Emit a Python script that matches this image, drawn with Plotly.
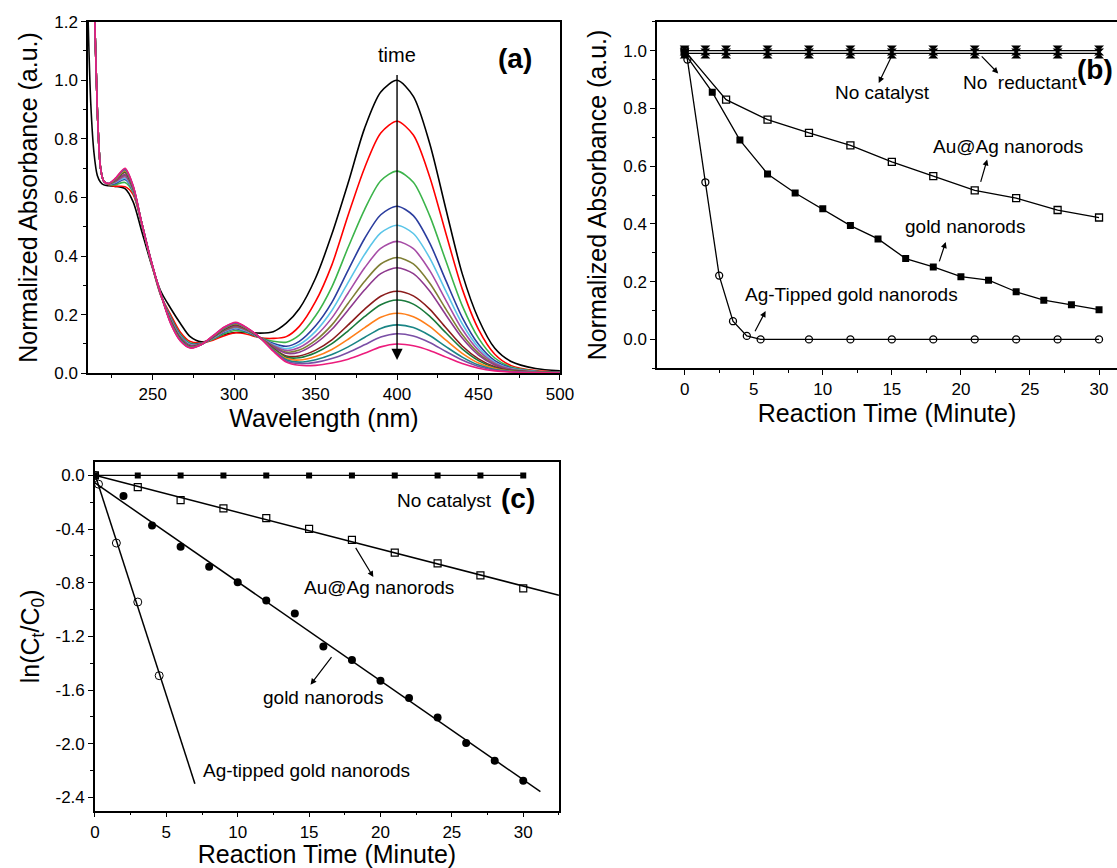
import numpy as np
import plotly.graph_objects as go

# ---------------- panel (a): spectra ----------------
wavelength = [210, 212, 214, 216, 218, 220, 223, 227, 233, 238, 243, 249, 255, 261, 267, 273, 280, 287, 294, 301,
              308, 316, 324, 332, 340, 350, 360, 370, 380, 390, 400, 410, 420, 430, 440, 450, 460, 470, 485, 500]

abs_black = [1.28, 0.92, 0.75, 0.675, 0.652, 0.643, 0.640, 0.638, 0.630, 0.585, 0.490, 0.375, 0.280, 0.222, 0.170, 0.125, 0.107, 0.118, 0.132, 0.139,
             0.140, 0.137, 0.142, 0.171, 0.220, 0.325, 0.475, 0.650, 0.835, 0.960, 1.000, 0.945, 0.785, 0.560, 0.340, 0.185, 0.085, 0.040, 0.016, 0.008]
abs_red = [1.9, 1.6, 1.3, 0.90, 0.700, 0.655, 0.643, 0.638, 0.637, 0.610, 0.515, 0.380, 0.265, 0.200, 0.140, 0.108, 0.104, 0.113, 0.128, 0.138,
           0.133, 0.121, 0.119, 0.125, 0.160, 0.245, 0.370, 0.540, 0.700, 0.820, 0.860, 0.813, 0.671, 0.477, 0.288, 0.150, 0.065, 0.026, 0.009, 0.004]
abs_green = [1.9, 1.6, 1.3, 0.90, 0.700, 0.655, 0.644, 0.644, 0.651, 0.617, 0.516, 0.381, 0.266, 0.193, 0.133, 0.103, 0.103, 0.116, 0.135, 0.146,
             0.138, 0.121, 0.109, 0.106, 0.130, 0.196, 0.295, 0.430, 0.558, 0.657, 0.690, 0.652, 0.538, 0.383, 0.231, 0.120, 0.052, 0.021, 0.007, 0.003]
abs_blue = [1.9, 1.6, 1.3, 0.90, 0.700, 0.655, 0.645, 0.648, 0.661, 0.622, 0.517, 0.382, 0.267, 0.189, 0.129, 0.100, 0.102, 0.119, 0.140, 0.152,
            0.141, 0.121, 0.102, 0.092, 0.109, 0.162, 0.242, 0.352, 0.459, 0.541, 0.570, 0.538, 0.445, 0.316, 0.191, 0.099, 0.043, 0.018, 0.006, 0.003]
abs_cyan = [1.9, 1.6, 1.3, 0.90, 0.700, 0.655, 0.645, 0.651, 0.666, 0.624, 0.517, 0.382, 0.267, 0.186, 0.126, 0.098, 0.101, 0.120, 0.142, 0.155,
            0.143, 0.121, 0.098, 0.084, 0.098, 0.143, 0.214, 0.310, 0.405, 0.479, 0.505, 0.477, 0.394, 0.280, 0.169, 0.088, 0.038, 0.016, 0.006, 0.003]
abs_magenta = [1.9, 1.6, 1.3, 0.90, 0.700, 0.655, 0.646, 0.653, 0.671, 0.626, 0.518, 0.383, 0.268, 0.184, 0.124, 0.096, 0.101, 0.121, 0.144, 0.157,
               0.145, 0.121, 0.095, 0.078, 0.088, 0.127, 0.189, 0.274, 0.359, 0.426, 0.450, 0.425, 0.351, 0.249, 0.150, 0.078, 0.034, 0.014, 0.005, 0.002]
abs_olive = [1.9, 1.6, 1.3, 0.90, 0.700, 0.655, 0.646, 0.655, 0.676, 0.628, 0.518, 0.383, 0.268, 0.182, 0.122, 0.095, 0.100, 0.122, 0.146, 0.160,
             0.147, 0.121, 0.092, 0.072, 0.079, 0.112, 0.165, 0.239, 0.313, 0.373, 0.395, 0.373, 0.308, 0.219, 0.132, 0.069, 0.030, 0.013, 0.005, 0.002]
abs_purple = [1.9, 1.6, 1.3, 0.90, 0.700, 0.655, 0.646, 0.656, 0.678, 0.630, 0.518, 0.383, 0.268, 0.180, 0.120, 0.094, 0.100, 0.123, 0.148, 0.162,
              0.148, 0.121, 0.090, 0.068, 0.072, 0.102, 0.150, 0.216, 0.284, 0.340, 0.360, 0.340, 0.281, 0.199, 0.120, 0.062, 0.028, 0.012, 0.004, 0.002]
abs_brown = [1.9, 1.6, 1.3, 0.90, 0.700, 0.655, 0.647, 0.659, 0.685, 0.633, 0.519, 0.384, 0.269, 0.177, 0.117, 0.091, 0.099, 0.124, 0.151, 0.166,
             0.150, 0.121, 0.085, 0.059, 0.059, 0.079, 0.114, 0.165, 0.218, 0.263, 0.280, 0.264, 0.219, 0.155, 0.093, 0.049, 0.022, 0.009, 0.004, 0.002]
abs_dkgreen = [1.9, 1.6, 1.3, 0.90, 0.700, 0.655, 0.647, 0.660, 0.688, 0.634, 0.519, 0.384, 0.269, 0.176, 0.116, 0.090, 0.099, 0.125, 0.152, 0.167,
               0.151, 0.121, 0.084, 0.055, 0.053, 0.070, 0.101, 0.145, 0.193, 0.234, 0.250, 0.236, 0.195, 0.138, 0.083, 0.043, 0.019, 0.008, 0.003, 0.002]
abs_orange = [1.9, 1.6, 1.3, 0.90, 0.700, 0.655, 0.647, 0.661, 0.691, 0.636, 0.519, 0.384, 0.269, 0.174, 0.114, 0.089, 0.099, 0.126, 0.154, 0.169,
              0.152, 0.121, 0.081, 0.050, 0.045, 0.057, 0.081, 0.116, 0.155, 0.191, 0.205, 0.193, 0.160, 0.113, 0.068, 0.035, 0.016, 0.007, 0.003, 0.001]
abs_teal = [1.9, 1.6, 1.3, 0.90, 0.700, 0.655, 0.648, 0.663, 0.695, 0.637, 0.520, 0.385, 0.270, 0.173, 0.113, 0.088, 0.098, 0.127, 0.155, 0.171,
            0.153, 0.121, 0.079, 0.046, 0.038, 0.046, 0.064, 0.090, 0.122, 0.153, 0.165, 0.156, 0.129, 0.091, 0.055, 0.028, 0.013, 0.006, 0.003, 0.001]
abs_violet = [1.9, 1.6, 1.3, 0.90, 0.700, 0.655, 0.648, 0.664, 0.697, 0.639, 0.520, 0.385, 0.270, 0.171, 0.111, 0.087, 0.098, 0.127, 0.157, 0.172,
              0.154, 0.121, 0.077, 0.042, 0.033, 0.037, 0.050, 0.071, 0.097, 0.124, 0.135, 0.127, 0.105, 0.074, 0.045, 0.023, 0.011, 0.005, 0.002, 0.001]
abs_pink = [1.9, 1.6, 1.3, 0.90, 0.700, 0.655, 0.648, 0.665, 0.700, 0.640, 0.520, 0.385, 0.270, 0.170, 0.110, 0.086, 0.098, 0.128, 0.158, 0.174,
            0.155, 0.121, 0.075, 0.038, 0.027, 0.027, 0.035, 0.048, 0.068, 0.090, 0.100, 0.094, 0.078, 0.055, 0.033, 0.017, 0.008, 0.004, 0.002, 0.001]

spectra = [abs_black, abs_red, abs_green, abs_blue, abs_cyan, abs_magenta, abs_olive,
           abs_purple, abs_brown, abs_dkgreen, abs_orange, abs_teal, abs_violet, abs_pink]
spectra_colors = ['#000000', '#ff0000', '#3cb44b', '#2b3d9e', '#5bc5e8', '#a64ca6', '#7f7f35',
                  '#8e3a8e', '#8b1c1c', '#1a7a3c', '#ff7f1a', '#1a8585', '#7a4fa6', '#ec1c7c']

# ---------------- panel (b): decay of absorbance at 400 nm ----------------
t_ctrl = [0, 1.5, 3, 6, 9, 12, 15, 18, 21, 24, 27, 30]
no_catalyst_b = [1.0, 1.0, 1.0, 1.0, 1.0, 1.0, 1.0, 1.0, 1.0, 1.0, 1.0, 1.0]
no_reductant_b = [0.99, 0.99, 0.99, 0.99, 0.99, 0.99, 0.99, 0.99, 0.99, 0.99, 0.99, 0.99]

t_auag = [0, 3, 6, 9, 12, 15, 18, 21, 24, 27, 30]
auag_b = [1.0, 0.830, 0.761, 0.715, 0.672, 0.615, 0.565, 0.516, 0.489, 0.448, 0.422]

t_gold = [0, 2, 4, 6, 8, 10, 12, 14, 16, 18, 20, 22, 24, 26, 28, 30]
gold_b = [0.99, 0.856, 0.690, 0.573, 0.507, 0.452, 0.394, 0.348, 0.280, 0.251, 0.217, 0.205, 0.165, 0.136, 0.120, 0.103]

t_agtip_b = [0, 0.2, 1.5, 2.5, 3.5, 4.5, 5.5, 9, 12, 15, 18, 21, 24, 27, 30]
agtip_b = [1.0, 0.969, 0.544, 0.221, 0.063, 0.012, 0.0, 0.0, 0.0, 0.0, 0.0, 0.0, 0.0, 0.0, 0.0]

# ---------------- panel (c): ln(Ct/C0) ----------------
t_ctrl_c = [0, 3, 6, 9, 12, 15, 18, 21, 24, 27, 30]
no_catalyst_c = [0.0, 0.0, 0.0, 0.0, 0.0, 0.0, 0.0, 0.0, 0.0, 0.0, 0.0]

t_auag_c = [0, 3, 6, 9, 12, 15, 18, 21, 24, 27, 30]
auag_c = [0.0, -0.087, -0.184, -0.246, -0.318, -0.398, -0.480, -0.576, -0.656, -0.745, -0.842]

t_gold_c = [2, 4, 6, 8, 10, 12, 14, 16, 18, 20, 22, 24, 26, 28, 30]
gold_c = [-0.154, -0.373, -0.532, -0.681, -0.797, -0.932, -1.029, -1.275, -1.376, -1.530, -1.660, -1.804, -1.995, -2.127, -2.276]

t_agtip_c = [0, 0.25, 1.5, 3, 4.5]
agtip_c = [0.0, -0.065, -0.504, -0.944, -1.493]

# how far each fitted line is drawn (minutes)
fit_end = {'auag': 32.5, 'gold': 31.2, 'agtip': 7.0}

y_ticks_c = [0.0, -0.4, -0.8, -1.2, -1.6, -2.0, -2.4]
y_ticktext_c = ['0.0', '-0.4', '-0.8', '-1.2', '-1.6', '-2.0', '-2.4']

FONT = 'Liberation Sans, Arial, sans-serif'

fig = go.Figure()

# spectra
for vals, col in zip(spectra, spectra_colors):
    fig.add_trace(go.Scatter(x=wavelength, y=vals, mode='lines',
                             line=dict(color=col, width=1.6, shape='spline', smoothing=0.8),
                             xaxis='x', yaxis='y', hoverinfo='skip'))

# panel (b) series
line_b = dict(color='black', width=1.3)
fig.add_trace(go.Scatter(x=t_ctrl, y=no_reductant_b, mode='lines+markers', line=line_b,
                         marker=dict(symbol='hourglass', size=10, color='black'),
                         xaxis='x2', yaxis='y2'))
fig.add_trace(go.Scatter(x=t_ctrl, y=no_catalyst_b, mode='lines+markers', line=line_b,
                         marker=dict(symbol='hourglass', size=10, color='black'),
                         xaxis='x2', yaxis='y2'))
fig.add_trace(go.Scatter(x=t_agtip_b, y=agtip_b, mode='lines+markers', line=line_b,
                         marker=dict(symbol='circle-open', size=7, color='black', line=dict(width=1.3)),
                         xaxis='x2', yaxis='y2'))
fig.add_trace(go.Scatter(x=t_gold, y=gold_b, mode='lines+markers', line=line_b,
                         marker=dict(symbol='square', size=7, color='black'),
                         xaxis='x2', yaxis='y2'))
fig.add_trace(go.Scatter(x=t_auag, y=auag_b, mode='lines+markers', line=line_b,
                         marker=dict(symbol='square-open', size=7, color='black', line=dict(width=1.3)),
                         xaxis='x2', yaxis='y2'))

# panel (c) series + linear fits
fig.add_trace(go.Scatter(x=t_ctrl_c, y=no_catalyst_c, mode='lines+markers', line=line_b,
                         marker=dict(symbol='square', size=6, color='black'),
                         xaxis='x3', yaxis='y3'))
fits = [(t_auag_c, auag_c, 'auag', dict(symbol='square-open', size=7, color='black', line=dict(width=1.2))),
        (t_gold_c, gold_c, 'gold', dict(symbol='circle', size=8, color='black')),
        (t_agtip_c, agtip_c, 'agtip', dict(symbol='circle-open', size=8, color='black', line=dict(width=1)))]
for tx, ty, key, mk in fits:
    slope, icpt = np.polyfit(tx, ty, 1)
    xf = np.array([0, fit_end[key]])
    fig.add_trace(go.Scatter(x=xf, y=slope * xf + icpt, mode='lines',
                             line=dict(color='black', width=1.5), xaxis='x3', yaxis='y3'))
    fig.add_trace(go.Scatter(x=tx, y=ty, mode='markers', marker=mk, xaxis='x3', yaxis='y3'))


def axis(domain, rng, dtick, minor, title, standoff, anchor, mirror=True, **kw):
    d = dict(domain=domain, range=rng, dtick=dtick, anchor=anchor,
             showline=True, linecolor='black', linewidth=1.5, mirror=mirror,
             ticks='outside', ticklen=5, tickwidth=1.3, tickcolor='black',
             minor=dict(dtick=minor, ticks='outside', ticklen=3, tickwidth=1.2, tickcolor='black', showgrid=False),
             showgrid=False, zeroline=False, automargin=False,
             tickfont=dict(family=FONT, size=17, color='black'),
             title=dict(text=title, standoff=standoff, font=dict(family=FONT, size=25, color='black')))
    d.update(kw)
    return d


fig.update_layout(
    width=1117, height=868,
    margin=dict(l=0, r=0, t=0, b=0),
    paper_bgcolor='white', plot_bgcolor='white',
    showlegend=False,
    font=dict(family=FONT, color='black'),
    xaxis=axis([0.0788, 0.5013], [210.3, 500], 50, 25, 'Wavelength (nm)', 0, 'y', tick0=250),
    yaxis=axis([0.570, 0.975], [0, 1.2], 0.2, 0.1, 'Normalized Absorbance (a.u.)', 9, 'x', tickformat='.1f'),
    xaxis2=axis([0.5882, 1.0], [-2, 31.3], 5, 2.5, 'Reaction Time (Minute)', 0, 'y2', tick0=0),
    yaxis2=axis([0.5757, 0.975], [-0.1, 1.1], 0.2, 0.1, 'Normalized Absorbance (a.u.)', 9, 'x2',
                mirror=False, tickformat='.1f', tick0=0),
    xaxis3=axis([0.0850, 0.5004], [0, 32.5], 5, 2.5, 'Reaction Time (Minute)', 0, 'y3', tick0=0),
    yaxis3=axis([0.066, 0.4677], [-2.5, 0.1], 0.4, 0.2, 'ln(C<sub>t</sub>/C<sub>0</sub>)', 9, 'x3',
                tickmode='array', tickvals=y_ticks_c, ticktext=y_ticktext_c),
)

ann_font = dict(family=FONT, size=19, color='black')
bold_font = dict(family=FONT, size=28, color='black')
arrow = dict(showarrow=True, arrowhead=2, arrowsize=1, arrowwidth=1.2, arrowcolor='black', text='')

annotations = [
    # panel (a)
    dict(x=400, y=1.086, xref='x', yref='y', text='time', showarrow=False, font=dict(family=FONT, size=20)),
    dict(x=400, y=0.045, ax=400, ay=1.023, xref='x', yref='y', axref='x', ayref='y',
         showarrow=True, arrowhead=2, arrowsize=1.6, arrowwidth=1.4, arrowcolor='black', text=''),
    dict(x=472.5, y=1.076, xref='x', yref='y', text='<b>(a)</b>', showarrow=False, font=bold_font),
    # panel (b)
    dict(x=14.3, y=0.856, xref='x2', yref='y2', text='No catalyst', showarrow=False, font=ann_font),
    dict(x=14.05, y=0.888, ax=15, ay=0.982, xref='x2', yref='y2', axref='x2', ayref='y2', **arrow),
    dict(x=24.3, y=0.89, xref='x2', yref='y2', text='No  reductant', showarrow=False, font=ann_font),
    dict(x=22.7, y=0.921, ax=21.4, ay=0.985, xref='x2', yref='y2', axref='x2', ayref='y2', **arrow),
    dict(x=29.7, y=0.934, xref='x2', yref='y2', text='<b>(b)</b>', showarrow=False, font=bold_font),
    dict(x=23.4, y=0.669, xref='x2', yref='y2', text='Au@Ag nanorods', showarrow=False, font=ann_font),
    dict(x=21.9, y=0.623, ax=21.4, ay=0.54, xref='x2', yref='y2', axref='x2', ayref='y2', **arrow),
    dict(x=20.3, y=0.392, xref='x2', yref='y2', text='gold nanorods', showarrow=False, font=ann_font),
    dict(x=18.9, y=0.337, ax=18.4, ay=0.265, xref='x2', yref='y2', axref='x2', ayref='y2', **arrow),
    dict(x=12.1, y=0.156, xref='x2', yref='y2', text='Ag-Tipped gold nanorods', showarrow=False, font=ann_font),
    dict(x=5.86, y=0.098, ax=5.04, ay=0.023, xref='x2', yref='y2', axref='x2', ayref='y2', **arrow),
    # panel (c)
    dict(x=24.5, y=-0.189, xref='x3', yref='y3', text='No catalyst', showarrow=False, font=ann_font),
    dict(x=29.6, y=-0.174, xref='x3', yref='y3', text='<b>(c)</b>', showarrow=False, font=bold_font),
    dict(x=19.9, y=-0.832, xref='x3', yref='y3', text='Au@Ag nanorods', showarrow=False, font=ann_font),
    dict(x=19.5, y=-0.758, ax=18.2, ay=-0.529, xref='x3', yref='y3', axref='x3', ayref='y3', **arrow),
    dict(x=16.0, y=-1.655, xref='x3', yref='y3', text='gold nanorods', showarrow=False, font=ann_font),
    dict(x=15.1, y=-1.56, ax=16.65, ay=-1.344, xref='x3', yref='y3', axref='x3', ayref='y3', **arrow),
    dict(x=14.85, y=-2.199, xref='x3', yref='y3', text='Ag-tipped gold nanorods', showarrow=False, font=ann_font),
]
fig.update_layout(annotations=annotations)

# the page's default 8px body margin would push the figure off the window
fig.write_html("out.html", config={'displayModeBar': False},
               post_script="document.body.style.margin='0';")
